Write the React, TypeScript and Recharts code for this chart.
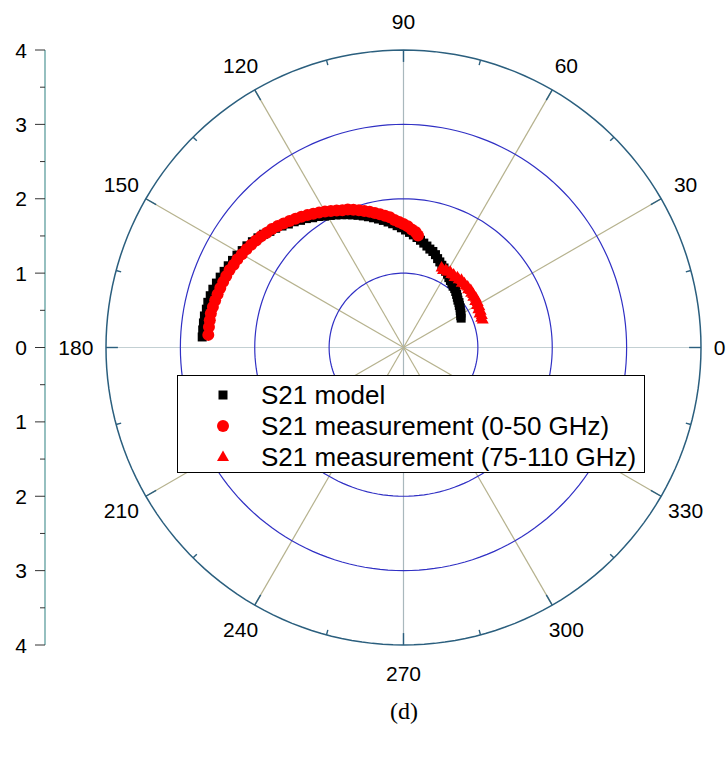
import React from "react";
import {
  ScatterChart,
  Scatter,
  XAxis,
  YAxis,
  ReferenceLine,
  ReferenceDot,
  Legend,
} from "recharts";

// S21 model (magnitude / phase in degrees)
const modelPhase = [
  177, 175, 173, 171, 169, 167, 165, 163, 161, 159, 157, 155, 153, 151, 149,
  147, 145, 143, 141, 139, 137, 135, 133, 131, 129, 127, 125, 123, 121, 119,
  117, 115, 113, 111, 109, 107, 105, 103, 101, 99, 97, 95, 93, 91, 89, 87, 85,
  83, 81, 79, 77, 75, 73, 71, 69, 67, 65, 63, 61, 59, 57, 55, 53, 51, 49, 47,
  45, 43, 41, 39, 37, 35, 33, 31, 29, 27,
];
const modelMag = [
  2.71, 2.71, 2.71, 2.71, 2.7, 2.7, 2.69, 2.68, 2.66, 2.64, 2.62, 2.6, 2.58,
  2.56, 2.53, 2.51, 2.48, 2.45, 2.42, 2.38, 2.35, 2.31, 2.27, 2.24, 2.2, 2.17,
  2.13, 2.1, 2.06, 2.03, 2.0, 1.97, 1.94, 1.91, 1.88, 1.85, 1.82, 1.79, 1.76,
  1.73, 1.7, 1.67, 1.64, 1.61, 1.58, 1.55, 1.52, 1.49, 1.46, 1.43, 1.4, 1.37,
  1.35, 1.32, 1.28, 1.25, 1.22, 1.2, 1.17, 1.15, 1.12, 1.1, 1.08, 1.06, 1.05,
  1.03, 1.01, 0.99, 0.97, 0.96, 0.94, 0.93, 0.91, 0.9, 0.88, 0.87,
];

// S21 measurement 0-50 GHz
const meas50Phase = [
  176.3, 174, 172, 170, 168, 166, 164, 162, 160, 158, 156, 154, 152, 150, 148,
  146, 144, 142, 140, 138, 136, 134, 132, 130, 128, 126, 124, 122, 120, 118,
  116, 114, 112, 110, 108, 106, 104, 102, 100, 98, 96, 94, 92, 90, 88, 86, 84,
  82.6,
];
const meas50Mag = [
  2.63, 2.63, 2.63, 2.63, 2.62, 2.61, 2.6, 2.59, 2.58, 2.57, 2.56, 2.54, 2.53,
  2.51, 2.49, 2.47, 2.45, 2.43, 2.4, 2.38, 2.35, 2.32, 2.29, 2.26, 2.23, 2.2,
  2.17, 2.14, 2.11, 2.08, 2.05, 2.02, 2.0, 1.97, 1.94, 1.91, 1.88, 1.85, 1.82,
  1.79, 1.76, 1.72, 1.69, 1.66, 1.63, 1.59, 1.56, 1.52,
];

// S21 measurement 75-110 GHz
const meas110Phase = [
  64.5, 63, 61.5, 60, 58.5, 57, 55.5, 54, 52.5, 51, 49.5, 48, 46.5, 45, 43.5,
  42, 40.5, 39, 37.5, 36, 34.5, 33, 31.5, 30, 28.5, 27, 25.5, 24, 22.5, 21,
  19.5,
];
const meas110Mag = [
  1.19, 1.17, 1.19, 1.18, 1.2, 1.18, 1.19, 1.17, 1.19, 1.18, 1.2, 1.17, 1.19,
  1.18, 1.19, 1.17, 1.19, 1.17, 1.18, 1.16, 1.18, 1.15, 1.17, 1.14, 1.16, 1.13,
  1.15, 1.12, 1.14, 1.12, 1.13,
];

const gridRadii = [1, 2, 3];
const outerRadius = 4;
const spokeAngles = [0, 30, 60, 90, 120, 150, 180, 210, 240, 270, 300, 330];
const minorTickAngles = [15, 45, 75, 105, 135, 165, 195, 225, 255, 285, 315, 345];
const angleLabels = ["0", "30", "60", "90", "120", "150", "180", "210", "240", "270", "300", "330"];
const radiusTicks = [-4, -3.5, -3, -2.5, -2, -1.5, -1, -0.5, 0, 0.5, 1, 1.5, 2, 2.5, 3, 3.5, 4];

const FONT = "'Liberation Sans', Arial, sans-serif";
const RED = "#ff0000";

const toXY = (mag: number, deg: number) => ({
  x: mag * Math.cos((deg * Math.PI) / 180),
  y: mag * Math.sin((deg * Math.PI) / 180),
});

const toPoints = (phase: number[], mag: number[]) =>
  phase.map((p, i) => toXY(mag[i], p));

const modelData = toPoints(modelPhase, modelMag);
const meas50Data = toPoints(meas50Phase, meas50Mag);
const meas110Data = toPoints(meas110Phase, meas110Mag);

const circleSteps = Array.from({ length: 181 }, (_, i) => i * 2);
const circle = (r: number) => circleSteps.map((a) => toXY(r, a));

const spokeColor = (a: number) =>
  a % 180 === 0 ? "#c3d0d3" : a % 90 === 0 ? "#a9b8bd" : "#b6b28e";

const Nothing = () => <g />;

const Square = (p: any) => (
  <rect x={p.cx - 4.5} y={p.cy - 4.5} width={9} height={9} fill="#000" />
);
const Dot = (p: any) => <circle cx={p.cx} cy={p.cy} r={6} fill={RED} />;
const Tri = (p: any) => (
  <polygon
    points={`${p.cx},${p.cy - 6.5} ${p.cx - 6},${p.cy + 4} ${p.cx + 6},${p.cy + 4}`}
    fill={RED}
  />
);

const seriesList = [
  { name: "S21 model", data: modelData, shape: Square },
  { name: "S21 measurement (0-50 GHz)", data: meas50Data, shape: Dot },
  { name: "S21 measurement (75-110 GHz)", data: meas110Data, shape: Tri },
];

const RadiusTick = (props: any) => {
  const { x, y, payload } = props;
  const v = payload.value;
  const major = Number.isInteger(v);
  const axisX = x + 18;
  return (
    <g>
      <line x1={axisX - (major ? 10 : 5)} x2={axisX} y1={y} y2={y} stroke="#333" />
      {major && (
        <text x={x} y={y} dy="0.36em" textAnchor="end" fontSize={21} fontFamily={FONT} fill="#000">
          {Math.abs(v)}
        </text>
      )}
    </g>
  );
};

const angleLabel = (text: string, deg: number) => {
  const c = Math.cos((deg * Math.PI) / 180);
  const anchor = c > 0.9 ? "start" : c < -0.9 ? "end" : "middle";
  return (props: any) => (
    <text
      x={props.cx}
      y={props.cy}
      dy="0.36em"
      textAnchor={anchor}
      fontSize={21}
      fontFamily={FONT}
      fill="#000"
    >
      {text}
    </text>
  );
};

const renderLegend = () => (
  <div
    style={{
      width: 468,
      height: 98,
      boxSizing: "border-box",
      border: "1px solid #000",
      background: "#fff",
      position: "relative",
      fontFamily: FONT,
      fontSize: 26,
      color: "#000",
    }}
  >
    {seriesList.map((s, i) => {
      const Shape = s.shape;
      return (
        <div
          key={s.name}
          style={{
            position: "absolute",
            left: 0,
            top: 4 + i * 31,
            height: 30,
            display: "flex",
            alignItems: "center",
            whiteSpace: "nowrap",
          }}
        >
          <svg width={83} height={30}>
            <Shape cx={45} cy={15} />
          </svg>
          <span>{s.name}</span>
        </div>
      );
    })}
  </div>
);

export default function App() {
  return (
    <div
      style={{
        position: "absolute",
        left: 0,
        top: 0,
        width: 728,
        height: 758,
        background: "#fff",
        fontFamily: FONT,
      }}
    >
      <ScatterChart
        width={728}
        height={700}
        margin={{ top: 50, right: 27, bottom: 55, left: 0 }}
      >
        <XAxis type="number" dataKey="x" domain={[-4.82, 4]} hide />
        <YAxis
          type="number"
          dataKey="y"
          domain={[-4, 4]}
          ticks={radiusTicks}
          interval={0}
          width={45}
          tickSize={10}
          tickMargin={8}
          tickLine={false}
          axisLine={{ stroke: "#4f9595", strokeWidth: 1.2 }}
          tick={<RadiusTick />}
        />

        {spokeAngles.map((a) => (
          <ReferenceLine
            key={"s" + a}
            segment={[toXY(0, a), toXY(outerRadius, a)]}
            stroke={spokeColor(a)}
            strokeWidth={1.2}
          />
        ))}
        {spokeAngles.map((a) => (
          <ReferenceLine
            key={"t" + a}
            segment={[toXY(outerRadius - 0.16, a), toXY(outerRadius, a)]}
            stroke="#2b5f7e"
            strokeWidth={1.4}
          />
        ))}
        {minorTickAngles.map((a) => (
          <ReferenceLine
            key={"m" + a}
            segment={[toXY(outerRadius - 0.07, a), toXY(outerRadius, a)]}
            stroke="#2b5f7e"
            strokeWidth={1.4}
          />
        ))}

        {gridRadii.map((r) => (
          <Scatter
            key={"c" + r}
            data={circle(r)}
            line={{ stroke: "#3030c4", strokeWidth: 1.2 }}
            lineType="joint"
            shape={<Nothing />}
            legendType="none"
            isAnimationActive={false}
          />
        ))}
        <Scatter
          data={circle(outerRadius)}
          line={{ stroke: "#2b5f7e", strokeWidth: 1.5 }}
          lineType="joint"
          shape={<Nothing />}
          legendType="none"
          isAnimationActive={false}
        />

        {seriesList.map((s) => (
          <Scatter
            key={s.name}
            name={s.name}
            data={s.data}
            shape={s.shape}
            isAnimationActive={false}
          />
        ))}

        {spokeAngles.map((a, i) => {
          const c = Math.abs(Math.cos((a * Math.PI) / 180));
          const p = toXY(c > 0.9 ? 4.17 : 4.38, a);
          return (
            <ReferenceDot
              key={"l" + a}
              x={p.x}
              y={p.y}
              r={0}
              ifOverflow="visible"
              shape={angleLabel(angleLabels[i], a)}
            />
          );
        })}

        <Legend
          layout="vertical"
          align="center"
          verticalAlign="middle"
          wrapperStyle={{ left: 177, top: 375, width: 468, height: 98 }}
          content={renderLegend}
        />
      </ScatterChart>
      <div
        style={{
          position: "absolute",
          left: 0,
          top: 698,
          width: 808,
          textAlign: "center",
          fontFamily: "'Liberation Serif', 'Times New Roman', serif",
          fontSize: 24,
          color: "#000",
        }}
      >
        (d)
      </div>
    </div>
  );
}
